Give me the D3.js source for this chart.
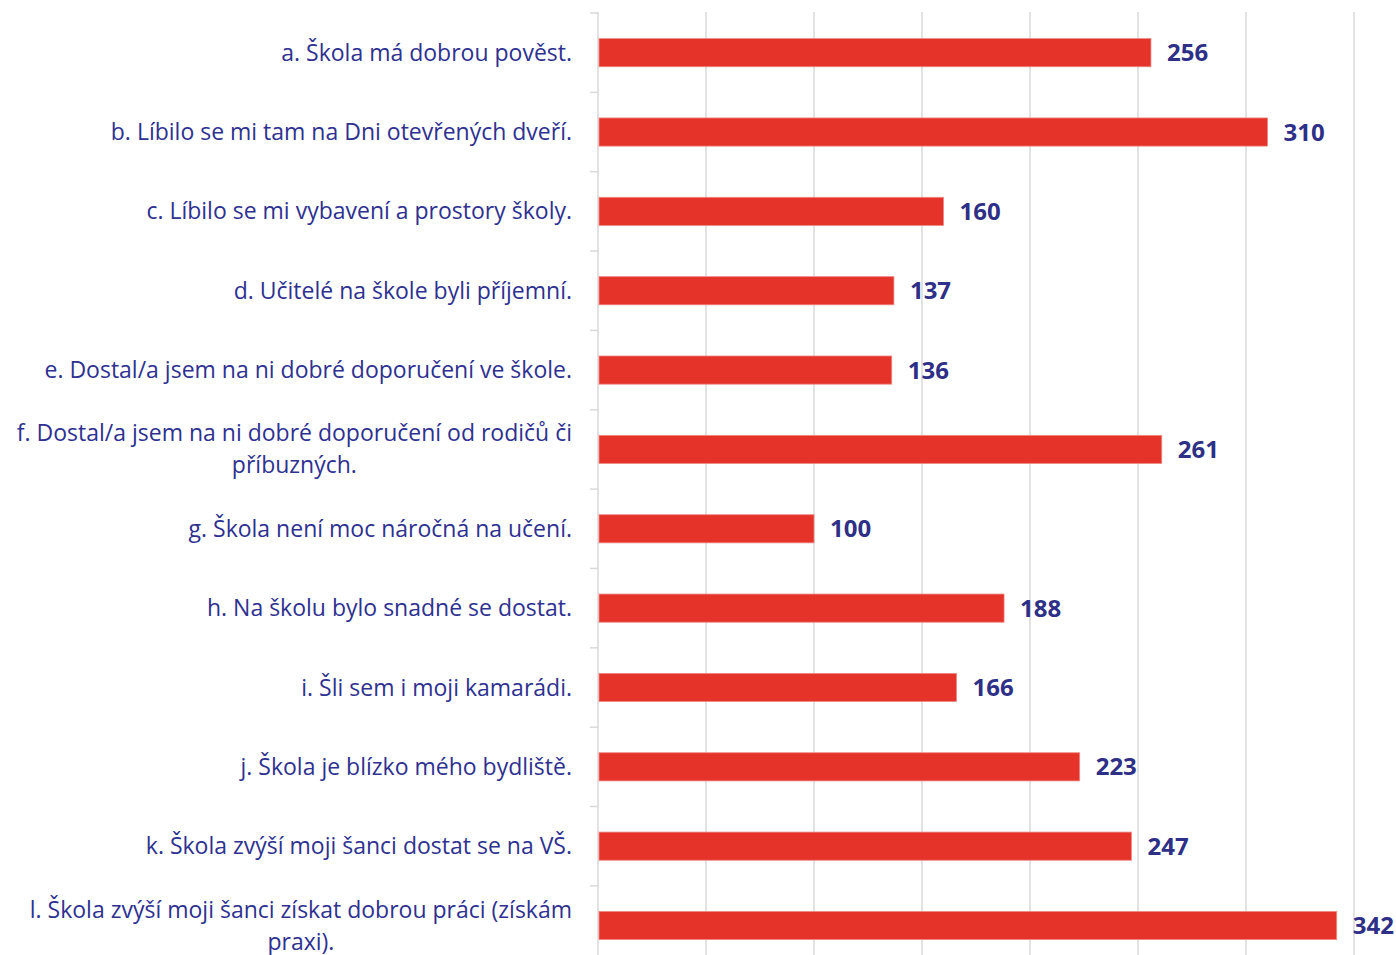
<!DOCTYPE html>
<html>
<head>
<meta charset="utf-8">
<script src="https://cdn.jsdelivr.net/npm/d3@7"></script>
<style>
  html, body { margin: 0; padding: 0; background: #fff; }
  svg { display: block; }
</style>
</head>
<body>
<div id="chart"></div>
<script>
    var categories = [
      "a. Škola má dobrou pověst.",
      "b. Líbilo se mi tam na Dni otevřených dveří.",
      "c. Líbilo se mi vybavení a prostory školy.",
      "d. Učitelé na škole byli příjemní.",
      "e. Dostal/a jsem na ni dobré doporučení ve škole.",
      "f. Dostal/a jsem na ni dobré doporučení od rodičů či příbuzných.",
      "g. Škola není moc náročná na učení.",
      "h. Na školu bylo snadné se dostat.",
      "i. Šli sem i moji kamarádi.",
      "j. Škola je blízko mého bydliště.",
      "k. Škola zvýší moji šanci dostat se na VŠ.",
      "l. Škola zvýší moji šanci získat dobrou práci (získám praxi)."
    ];
    var counts = [256, 310, 160, 137, 136, 261, 100, 188, 166, 223, 247, 342];
    var gridTicks = [0, 50, 100, 150, 200, 250, 300, 350, 400];

    var width = 1396,
      height = 955,
      margin = {top: 13, left: 598},
      bandStep = 79.35,
      labelMaxWidth = 572;

    var textColor = "#2E3190",
      barColor = "#E5332A";

    var svg = d3.select("#chart").append("svg")
      .attr("width", width)
      .attr("height", height);

    var x = d3.scaleLinear()
      .domain([0, 400])
      .range([margin.left, margin.left + 864]);

    var y = d3.scaleBand()
      .domain(categories)
      .range([margin.top, margin.top + bandStep * categories.length])
      .paddingInner(0.645)
      .paddingOuter(0.3225);

    // vertical gridlines
    svg.append("g")
      .selectAll("line")
      .data(gridTicks.slice(1))
      .enter().append("line")
      .attr("x1", function(d) { return x(d); })
      .attr("x2", function(d) { return x(d); })
      .attr("y1", margin.top - 1)
      .attr("y2", height)
      .style("stroke", "#D9D9D9")
      .style("stroke-width", 1.5);

    // category axis line + ticks between categories
    svg.append("line")
      .attr("x1", x(0)).attr("x2", x(0))
      .attr("y1", margin.top - 1).attr("y2", height)
      .style("stroke", "#D9D9D9")
      .style("stroke-width", 1.5);

    var boundaries = d3.range(categories.length + 1).map(function(i) {
      return margin.top + i * y.step();
    });
    svg.append("g")
      .selectAll("line")
      .data(boundaries)
      .enter().append("line")
      .attr("x1", x(0) - 8)
      .attr("x2", x(0))
      .attr("y1", function(d) { return d; })
      .attr("y2", function(d) { return d; })
      .style("stroke", "#D9D9D9")
      .style("stroke-width", 1.5);

    // bars
    svg.append("g")
      .selectAll("rect")
      .data(counts)
      .enter().append("rect")
      .attr("x", x(0) + 1)
      .attr("y", function(d, i) { return y(categories[i]); })
      .attr("width", function(d) { return x(d) - x(0) - 1; })
      .attr("height", y.bandwidth())
      .style("fill", barColor)
      .style("stroke", "#EE8A84")
      .style("stroke-width", 0.8);

    // value labels
    svg.append("g")
      .selectAll("text")
      .data(counts)
      .enter().append("text")
      .attr("x", function(d) { return x(d) + 16; })
      .attr("y", function(d, i) { return y(categories[i]) + y.bandwidth() / 2; })
      .attr("dy", "0.36em")
      .style("font", "bold 24px 'Open Sans', sans-serif")
      .style("fill", "#2E2F86")
      .text(function(d) { return d; });

    // category labels (wrapped, right aligned block with centred lines)
    var labels = svg.append("g")
      .selectAll("text")
      .data(categories)
      .enter().append("text")
      .style("font", "23px 'Open Sans', sans-serif")
      .style("fill", textColor);

    labels.each(function(d) {
      var el = d3.select(this);
      var words = d.split(" "), lines = [], line = [];
      var probe = el.append("tspan");
      words.forEach(function(w) {
        line.push(w);
        probe.text(line.join(" "));
        if (probe.node().getComputedTextLength() > labelMaxWidth && line.length > 1) {
          line.pop();
          lines.push(line.join(" "));
          line = [w];
        }
      });
      lines.push(line.join(" "));
      probe.remove();

      var lineHeight = 32;
      var cy = y(d) + y.bandwidth() / 2;
      var anchorX = 572;
      if (lines.length > 1) {
        // measure widest line so lines centre on the block
        var widths = lines.map(function(t) {
          var p = el.append("tspan").text(t);
          var w = p.node().getComputedTextLength();
          p.remove();
          return w;
        });
        var maxW = d3.max(widths);
        el.attr("text-anchor", "middle");
        lines.forEach(function(t, i) {
          el.append("tspan")
            .attr("x", anchorX - maxW / 2)
            .attr("y", cy + (i - (lines.length - 1) / 2) * lineHeight)
            .attr("dy", "0.35em")
            .text(t);
        });
      } else {
        el.attr("text-anchor", "end")
          .attr("x", anchorX)
          .attr("y", cy)
          .attr("dy", "0.35em")
          .text(lines[0]);
      }
    });
</script>
</body>
</html>
